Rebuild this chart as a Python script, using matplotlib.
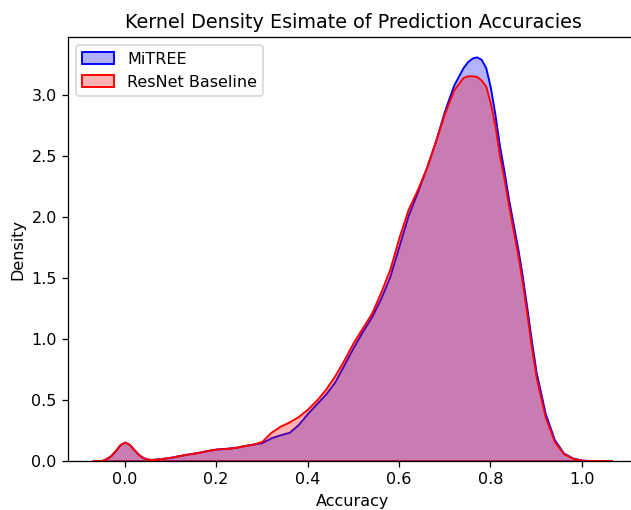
import matplotlib
matplotlib.use("Agg")
import matplotlib.pyplot as plt

# accuracy grid and density values
accuracy = [-0.07, -0.05, -0.04, -0.03, -0.02, -0.01, 0.0, 0.01, 0.02, 0.03,
            0.04, 0.05, 0.06, 0.08, 0.10, 0.12, 0.14, 0.16, 0.18, 0.20,
            0.22, 0.24, 0.26, 0.28, 0.30, 0.32, 0.34, 0.36, 0.38, 0.40,
            0.42, 0.44, 0.46, 0.48, 0.50, 0.52, 0.54, 0.56, 0.58, 0.60,
            0.62, 0.64, 0.66, 0.68, 0.70, 0.72, 0.74, 0.75, 0.76, 0.77,
            0.78, 0.79, 0.80, 0.81, 0.82, 0.83, 0.84, 0.85, 0.86, 0.87,
            0.88, 0.89, 0.90, 0.92, 0.94, 0.96, 0.98, 1.00, 1.02, 1.04,
            1.066]

mitree = [0.0, 0.004, 0.02, 0.045, 0.087, 0.135, 0.155, 0.137, 0.095, 0.055,
          0.028, 0.015, 0.013, 0.02, 0.03, 0.045, 0.058, 0.07, 0.085, 0.098,
          0.103, 0.11, 0.125, 0.138, 0.15, 0.19, 0.215, 0.235, 0.30, 0.39,
          0.47, 0.55, 0.65, 0.79, 0.93, 1.06, 1.18, 1.33, 1.51, 1.76,
          2.01, 2.20, 2.40, 2.62, 2.87, 3.08, 3.22, 3.27, 3.30, 3.31,
          3.29, 3.22, 3.06, 2.84, 2.58, 2.37, 2.14, 1.94, 1.74, 1.51,
          1.25, 0.98, 0.73, 0.39, 0.175, 0.065, 0.025, 0.008, 0.003, 0.001,
          0.0]

resnet = [0.0, 0.004, 0.02, 0.045, 0.087, 0.135, 0.155, 0.137, 0.095, 0.055,
          0.028, 0.015, 0.013, 0.02, 0.03, 0.045, 0.058, 0.07, 0.085, 0.098,
          0.103, 0.11, 0.125, 0.138, 0.16, 0.235, 0.285, 0.32, 0.365, 0.425,
          0.50, 0.59, 0.70, 0.83, 0.97, 1.09, 1.21, 1.38, 1.57, 1.83,
          2.06, 2.22, 2.40, 2.62, 2.85, 3.04, 3.14, 3.155, 3.155, 3.15,
          3.12, 3.07, 2.93, 2.75, 2.50, 2.31, 2.09, 1.89, 1.69, 1.46,
          1.20, 0.93, 0.69, 0.36, 0.16, 0.06, 0.022, 0.007, 0.003, 0.001,
          0.0]

fig = plt.figure(figsize=(631 / 115, 510 / 115), dpi=115)
ax = fig.add_axes([68 / 631, 49 / 510, 570 / 631, 423.7 / 510])

ax.fill_between(accuracy, mitree, facecolor=(0, 0, 1, 0.3), edgecolor='blue',
                linewidth=1.2, label='MiTREE')
ax.fill_between(accuracy, resnet, facecolor=(1, 0, 0, 0.3), edgecolor='red',
                linewidth=1.2, label='ResNet Baseline')

ax.set_xlim(-0.124, 1.123)
ax.set_ylim(0, 3.47)
ax.set_xlabel('Accuracy')
ax.set_ylabel('Density')
ax.set_title('Kernel Density Esimate of Prediction Accuracies')
ax.legend(loc='upper left')
# the reference is cropped just before the right frame line
ax.spines['right'].set_visible(False)

fig.savefig('out.png', dpi=115)
